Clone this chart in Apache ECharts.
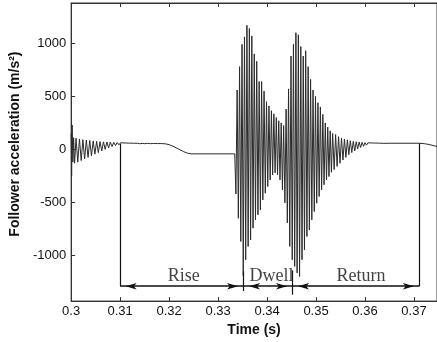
<!DOCTYPE html>
<html>
<head>
<meta charset="utf-8">
<script src="https://cdn.jsdelivr.net/npm/echarts@6/dist/echarts.min.js"></script>
<style>html,body{margin:0;padding:0;background:#fff;overflow:hidden}#c{width:437px;height:342px}</style>
</head>
<body>
<div id="c"></div>
<script>
// ---- Data ----
// Start transient (0.30 - 0.311 s)
const startT = [0.30000,0.30010,0.30020,0.30035,0.30050,0.30070,0.30100,0.30135,0.30170,0.30205,0.30240,0.30275,0.30310,0.30345,0.30380,0.30415,0.30450,0.30485,0.30520,0.30555,0.30590,0.30625,0.30660,0.30695,0.30730,0.30765,0.30800,0.30835,0.30870,0.30905,0.30940,0.30975,0.31010,0.31045,0.31080,0.31115];
const startV = [150,-250,230,-120,110,-130,105,-120,98,-105,92,-90,88,-75,84,-60,80,-45,76,-30,73,-15,71,0,70,15,69,27,67,36,65,43,63,48,61,51];
// Rise (ripple, then smooth drop to constant)
const riseT = [0.3119,0.3123,0.3127,0.3131,0.3135,0.3140,0.3145,0.3150,0.3156,0.3162,0.3168,0.3176,0.3185,0.3193,0.3200,0.3210,0.3220,0.3230,0.3238,0.3245,0.3334];
const riseV = [59,52,58,53,58,53,57,54,57,54,56,55,55,52,45,25,2,-22,-36,-42,-42];
// Large vibration bursts (alternate trough / peak)
const burstT = [0.33364,0.33389,0.33414,0.33439,0.33464,0.33489,0.33514,0.33539,0.33564,0.33589,0.33614,0.33639,0.33664,0.33689,0.33714,0.33739,0.33764,0.33789,0.33814,0.33839,0.33864,0.33889,0.33914,0.33939,0.33964,0.33989,0.34014,0.34039,0.34064,0.34089,0.34114,0.34139,0.34164,0.34189,0.34214,0.34239,0.34264,0.34289,0.34314,0.34339,0.34364,0.34389,0.34414,0.34439,0.34464,0.34489,0.34514,0.34539,0.34564,0.34589,0.34614,0.34639,0.34664,0.34689,0.34714,0.34739,0.34764,0.34789,0.34814,0.34839,0.34864,0.34889,0.34914,0.34939,0.34964,0.34989,0.35014,0.35039,0.35064,0.35089,0.35114,0.35139,0.35164,0.35189,0.35214,0.35239,0.35264,0.35289,0.35314,0.35339];
const burstV = [-420,560,-650,780,-868,990,-1190,1060,-1040,1170,-915,1140,-852,1070,-742,900,-664,830,-617,640,-570,640,-476,550,-413,450,-350,410,-287,365,-240,335,-221,300,-240,270,-287,250,-381,225,-504,380,-692,570,-915,880,-1040,990,-1103,1100,-1165,1080,-1198,970,-1040,880,-946,930,-821,780,-760,660,-664,560,-586,500,-507,440,-444,400,-381,330,-334,250,-287,210,-256,175,-215,150];
// Return decay and end
const tailT = [0.3537,0.3540,0.3543,0.3546,0.3549,0.3552,0.3555,0.3558,0.3561,0.3564,0.3567,0.3570,0.3573,0.3576,0.3579,0.3582,0.3585,0.3588,0.3591,0.3594,0.3597,0.3600,0.3603,0.3606,0.3609,0.3612,0.3615,0.3619,0.3623,0.3629,0.3637,0.3649,0.3711,0.3721,0.3731,0.3743,0.3747];
const tailV = [-190,140,-160,120,-130,108,-100,97,-75,90,-50,82,-30,76,-15,72,5,70,18,67,30,64,40,62,47,61,52,60,55,59,57,58,58,54,46,32,27];

// Phase annotations
const phaseBounds = [0.31, 0.3352, 0.3452, 0.3711];
const boundTop = [55, -1150, -1140, 58];
const boundBottom = [-1290, -1335, -1370, -1290];
const arrowV = -1290;
const phaseNames = ['Rise', 'Dwell', 'Return'];
const phaseLabelT = [0.3230, 0.3409, 0.3592];
const phaseLabelV = -1195;

// Axis ticks
const xTicks = [0.30, 0.31, 0.32, 0.33, 0.34, 0.35, 0.36, 0.37];
const xTickLabels = ['0.3', '0.31', '0.32', '0.33', '0.34', '0.35', '0.36', '0.37'];
const yTicks = [-1000, -500, 0, 500, 1000];
const yTickLabels = ['-1000', '-500', '0', '500', '1000'];

// ---- Build ----
const allT = startT.concat(riseT, burstT, tailT);
const allV = startV.concat(riseV, burstV, tailV);
const signal = allT.map((t, i) => [t, allV[i]]);

const markLines = [];
phaseBounds.forEach((t, i) => {
  markLines.push([{ coord: [t, boundTop[i]], symbol: 'none' }, { coord: [t, boundBottom[i]], symbol: 'none' }]);
});
const arrowLines = [];
for (let i = 0; i < phaseBounds.length - 1; i++) {
  arrowLines.push([{ coord: [phaseBounds[i], arrowV] }, { coord: [phaseBounds[i + 1], arrowV] }]);
}
const labels = phaseNames.map((n, i) => ({ name: n, value: [phaseLabelT[i], phaseLabelV] }));

const FONT = 'Liberation Sans, Arial, sans-serif';
const xFmt = v => { const i = xTicks.findIndex(x => Math.abs(x - v) < 1e-9); return i >= 0 ? xTickLabels[i] : ''; };
const yFmt = v => { const i = yTicks.indexOf(v); return i >= 0 ? yTickLabels[i] : ''; };
const XMAX = 0.3747;

const chart = echarts.init(document.getElementById('c'), null, { renderer: 'canvas' });
chart.setOption({
  animation: false,
  backgroundColor: '#fff',
  grid: { left: 65.5, right: -2, top: 3, bottom: 40, show: true, borderWidth: 1, borderColor: '#333', backgroundColor: 'transparent' },
  xAxis: [{
    type: 'value', min: 0.3, max: XMAX, position: 'bottom',
    name: 'Time (s)', nameLocation: 'middle', nameGap: 18,
    nameTextStyle: { fontFamily: FONT, fontSize: 14, fontWeight: 'bold', color: '#111', padding: [0, 0, 0, 0] },
    axisLine: { show: true, onZero: false, lineStyle: { color: '#333', width: 1 } },
    axisTick: { show: true, inside: true, length: 4, customValues: xTicks, lineStyle: { color: '#333' } },
    axisLabel: { show: true, customValues: xTicks, formatter: xFmt, margin: 4, fontFamily: FONT, fontSize: 13, color: '#111' },
    splitLine: { show: false }
  }, {
    type: 'value', min: 0.3, max: XMAX, position: 'top',
    axisLine: { show: true, onZero: false, lineStyle: { color: '#333', width: 1 } },
    axisTick: { show: true, inside: true, length: 4, customValues: xTicks, lineStyle: { color: '#333' } },
    axisLabel: { show: false },
    splitLine: { show: false }
  }],
  yAxis: [{
    type: 'value', min: -1430, max: 1380,
    name: 'Follower acceleration (m/s²)', nameLocation: 'middle', nameGap: 34,
    nameTextStyle: { fontFamily: FONT, fontSize: 14, fontWeight: 'bold', color: '#111', padding: [0, 0, 0, 16] },
    axisLine: { show: true, onZero: false, lineStyle: { color: '#333', width: 1 } },
    axisTick: { show: true, inside: true, length: 4, customValues: yTicks, lineStyle: { color: '#333' } },
    axisLabel: { show: true, customValues: yTicks, formatter: yFmt, margin: 5, fontFamily: FONT, fontSize: 13, color: '#111' },
    splitLine: { show: false }
  }],
  series: [{
    type: 'line', data: signal, showSymbol: false, symbol: 'none',
    lineStyle: { color: '#2b2b2b', width: 1 }, silent: true,
    markLine: {
      silent: true, symbol: 'none', label: { show: false },
      lineStyle: { color: '#111', width: 1.2, type: 'solid' },
      data: markLines
    }
  }, {
    type: 'line', data: [], silent: true,
    markLine: {
      silent: true, symbol: ['arrow', 'arrow'], symbolSize: [5, 11],
      symbolOffset: [[0, 5.5], [0, 5.5]],
      label: { show: false },
      lineStyle: { color: '#111', width: 1.6, type: 'solid' },
      itemStyle: { color: '#111' },
      data: arrowLines
    }
  }, {
    type: 'scatter', data: labels, symbolSize: 1, silent: true,
    itemStyle: { color: 'rgba(0,0,0,0)' },
    label: { show: true, position: 'inside', formatter: p => p.name, fontFamily: 'Liberation Serif, Times New Roman, serif', fontSize: 18, color: '#111' }
  }]
});
</script>
</body>
</html>
